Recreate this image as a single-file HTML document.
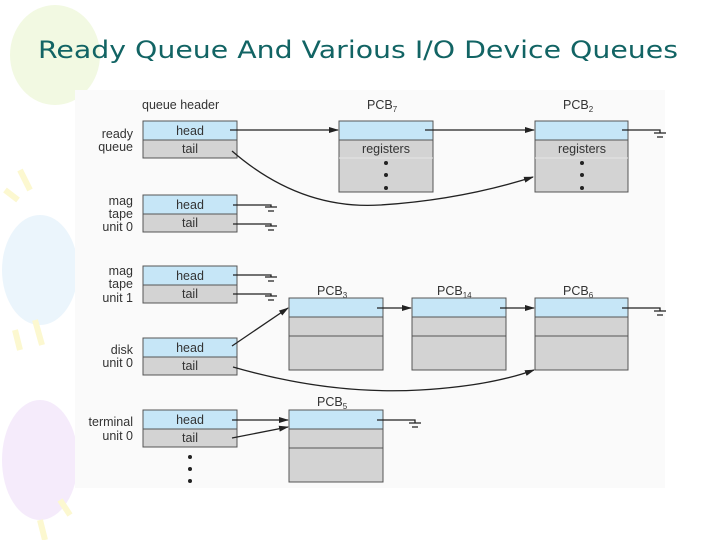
<!DOCTYPE html>
<html><head><meta charset="utf-8"><style>
html,body{margin:0;padding:0;width:720px;height:540px;overflow:hidden;background:#fff}
svg{display:block}
</style></head><body>
<svg width="720" height="540" viewBox="0 0 720 540" xmlns="http://www.w3.org/2000/svg" font-family="Liberation Sans, sans-serif">
<defs>
<marker id="a" markerWidth="10" markerHeight="8" refX="9" refY="4" orient="auto" markerUnits="userSpaceOnUse"><path d="M0,1 L10,4 L0,7 Z" fill="#222"/></marker>
</defs>
<!-- decorations -->
<ellipse cx="55" cy="55" rx="45" ry="50" fill="#f2f9e2"/>
<ellipse cx="40" cy="270" rx="38" ry="55" fill="#ebf5fc"/>
<ellipse cx="40" cy="460" rx="38" ry="60" fill="#f5ebfb"/>
<path d="M20,170 L30,190 M5,190 L18,200 M35,320 L42,345 M15,330 L20,350" stroke="#fcf8d0" stroke-width="6"/>
<path d="M40,520 L45,540 M60,500 L70,515" stroke="#fcf8d0" stroke-width="6"/>
<rect x="75" y="90" width="590" height="398" fill="#fafafa"/>
<text x="38" y="58" font-family="DejaVu Sans, sans-serif" font-size="24" fill="#126464" textLength="640" lengthAdjust="spacingAndGlyphs">Ready Queue And Various I/O Device Queues</text>

<g font-size="12.5" fill="#333">
<text x="142" y="109">queue header</text>
<text x="367" y="109">PCB<tspan font-size="8" dy="3">7</tspan></text>
<text x="563" y="109">PCB<tspan font-size="8" dy="3">2</tspan></text>
<text x="317" y="295">PCB<tspan font-size="8" dy="3">3</tspan></text>
<text x="437" y="295">PCB<tspan font-size="8" dy="3">14</tspan></text>
<text x="563" y="295">PCB<tspan font-size="8" dy="3">6</tspan></text>
<text x="317" y="406">PCB<tspan font-size="8" dy="3">5</tspan></text>
<g text-anchor="end">
<text x="133" y="138">ready</text><text x="133" y="151">queue</text>
<text x="133" y="205">mag</text><text x="133" y="218">tape</text><text x="133" y="231">unit 0</text>
<text x="133" y="275">mag</text><text x="133" y="288">tape</text><text x="133" y="302">unit 1</text>
<text x="133" y="354">disk</text><text x="133" y="367">unit 0</text>
<text x="133" y="426">terminal</text><text x="133" y="440">unit 0</text>
</g>
</g>

<g stroke="#555" stroke-width="1">
<rect x="143" y="121" width="94" height="19" fill="#c6e6f7"/><rect x="143" y="140" width="94" height="18" fill="#d3d3d3"/>
<rect x="143" y="195" width="94" height="19" fill="#c6e6f7"/><rect x="143" y="214" width="94" height="18" fill="#d3d3d3"/>
<rect x="143" y="266" width="94" height="19" fill="#c6e6f7"/><rect x="143" y="285" width="94" height="18" fill="#d3d3d3"/>
<rect x="143" y="338" width="94" height="19" fill="#c6e6f7"/><rect x="143" y="357" width="94" height="18" fill="#d3d3d3"/>
<rect x="143" y="410" width="94" height="19" fill="#c6e6f7"/><rect x="143" y="429" width="94" height="18" fill="#d3d3d3"/>
<rect x="339" y="121" width="94" height="19" fill="#c6e6f7"/><rect x="339" y="140" width="94" height="52" fill="#d3d3d3"/>
<rect x="535" y="121" width="93" height="19" fill="#c6e6f7"/><rect x="535" y="140" width="93" height="52" fill="#d3d3d3"/>
<line x1="339" y1="158" x2="433" y2="158" stroke="#e6e6e6"/><line x1="535" y1="158" x2="628" y2="158" stroke="#e6e6e6"/>
<rect x="289" y="298" width="94" height="19" fill="#c6e6f7"/><rect x="289" y="317" width="94" height="19" fill="#d3d3d3"/><rect x="289" y="336" width="94" height="34" fill="#d3d3d3"/>
<rect x="412" y="298" width="94" height="19" fill="#c6e6f7"/><rect x="412" y="317" width="94" height="19" fill="#d3d3d3"/><rect x="412" y="336" width="94" height="34" fill="#d3d3d3"/>
<rect x="535" y="298" width="93" height="19" fill="#c6e6f7"/><rect x="535" y="317" width="93" height="19" fill="#d3d3d3"/><rect x="535" y="336" width="93" height="34" fill="#d3d3d3"/>
<rect x="289" y="410" width="94" height="19" fill="#c6e6f7"/><rect x="289" y="429" width="94" height="19" fill="#d3d3d3"/><rect x="289" y="448" width="94" height="34" fill="#d3d3d3"/>
</g>

<g font-size="12.5" fill="#333" text-anchor="middle">
<text x="190" y="135">head</text><text x="190" y="153">tail</text>
<text x="190" y="209">head</text><text x="190" y="227">tail</text>
<text x="190" y="280">head</text><text x="190" y="298">tail</text>
<text x="190" y="352">head</text><text x="190" y="370">tail</text>
<text x="190" y="424">head</text><text x="190" y="442">tail</text>
<text x="386" y="153">registers</text><text x="582" y="153">registers</text>
</g>
<g fill="#222">
<circle cx="386" cy="163" r="2"/><circle cx="386" cy="175" r="2"/><circle cx="386" cy="188" r="2"/>
<circle cx="582" cy="163" r="2"/><circle cx="582" cy="175" r="2"/><circle cx="582" cy="188" r="2"/>
<circle cx="190" cy="457" r="2"/><circle cx="190" cy="469" r="2"/><circle cx="190" cy="481" r="2"/>
</g>

<g stroke="#222" stroke-width="1.3" fill="none">
<line x1="230" y1="130" x2="338" y2="130" marker-end="url(#a)"/>
<path d="M232,151 Q300,210 380,205 Q460,200 533,177" marker-end="url(#a)"/>
<line x1="425" y1="130" x2="534" y2="130" marker-end="url(#a)"/>
<line x1="232" y1="346" x2="288" y2="308" marker-end="url(#a)"/>
<path d="M233,367 Q330,395 420,390 Q490,386 534,370" marker-end="url(#a)"/>
<line x1="377" y1="308" x2="411" y2="308" marker-end="url(#a)"/>
<line x1="500" y1="308" x2="534" y2="308" marker-end="url(#a)"/>
<line x1="232" y1="420" x2="288" y2="420" marker-end="url(#a)"/>
<line x1="232" y1="438" x2="288" y2="427" marker-end="url(#a)"/>
</g>
<g stroke="#222" stroke-width="1.3" fill="none">
<path d="M622,130 H660 V133 M654,133 H666 M657,137 H663"/>
<path d="M622,308 H660 V311 M654,311 H666 M657,315 H663"/>
<path d="M377,420 H415 V423 M409,423 H421 M412,427 H418"/>
<path d="M233,205 H271 V207 M265,207 H277 M268,211 H274"/>
<path d="M233,224 H271 V226 M265,226 H277 M268,230 H274"/>
<path d="M233,275 H271 V277 M265,277 H277 M268,281 H274"/>
<path d="M233,294 H271 V296 M265,296 H277 M268,300 H274"/>
</g>
</svg>
</body></html>
